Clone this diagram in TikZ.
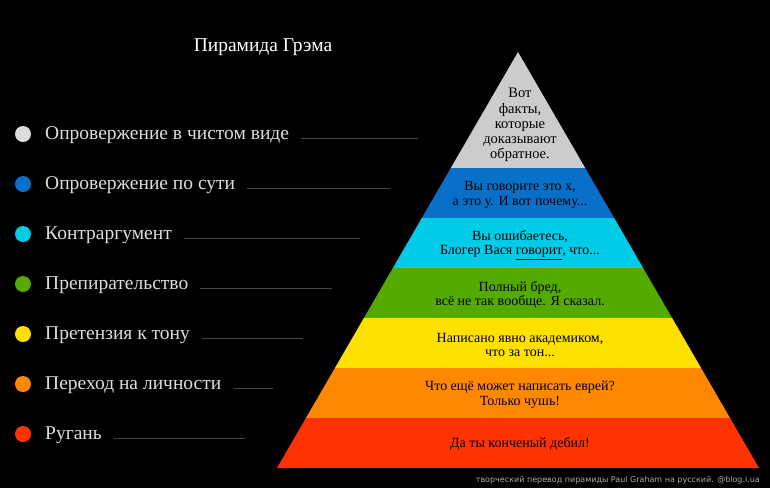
\documentclass[tikz,border=0pt]{standalone}
\usepackage{fontspec}
\setmainfont{Liberation Serif}
\newfontfamily\capfont{DejaVu Sans}
\definecolor{cgray}{HTML}{CCCCCC}
\definecolor{cgrayl}{HTML}{DDDDDD}
\definecolor{cblue}{HTML}{0870C8}
\definecolor{ccyan}{HTML}{00CCE8}
\definecolor{cgreen}{HTML}{55AA00}
\definecolor{cyellow}{HTML}{FFE100}
\definecolor{corange}{HTML}{FF8800}
\definecolor{cred}{HTML}{FF3300}
\definecolor{legc}{HTML}{DDDDDD}
\definecolor{lineg}{HTML}{484848}
\definecolor{capc}{HTML}{AAAAAA}
\begin{document}
\begin{tikzpicture}[x=1pt,y=-1pt,
  legtext/.style={anchor=base west, inner sep=0pt, text=legc, font=\fontsize{19.5}{22}\selectfont},
  legdot/.style={circle, minimum size=16pt, inner sep=0pt},
  leader/.style={draw=lineg, line width=0.7pt},
  ptext/.style={align=center, font=\fontsize{14}{14.8}\selectfont, text=black, inner sep=0pt}]
\fill[black] (0,0) rectangle (770,488);
\useasboundingbox (0,0) rectangle (770,488);
% title
\node[text=white, font=\fontsize{19.5}{22}\selectfont] (title) at (263,47) {Пирамида Грэма};
% pyramid
\coordinate (apex) at (518,52);
\coordinate (bl) at (277,468);
\coordinate (br) at (759,468);
\begin{scope}
\clip (apex) -- (bl) -- (br) -- cycle;
\fill[cgray]   (200,40)  rectangle (800,168);
\fill[cblue]   (200,168) rectangle (800,218);
\fill[ccyan]   (200,218) rectangle (800,268);
\fill[cgreen]  (200,268) rectangle (800,318);
\fill[cyellow] (200,318) rectangle (800,368);
\fill[corange] (200,368) rectangle (800,418);
\fill[cred]    (200,418) rectangle (800,470);
\end{scope}
\node[ptext, font=\fontsize{14.5}{15.2}\selectfont] (t1) at (520,125) {Вот\\факты,\\которые\\доказывают\\обратное.};
\node[ptext] (t2) at (520,195) {Вы говорите это х,\\а это у. И вот почему...};
\node[ptext] (t3) at (520,245) {Вы ошибаетесь,\\Блогер Вася \underline{говорит}, что...};
\node[ptext] (t4) at (520,295) {Полный бред,\\всё не так вообще. Я сказал.};
\node[ptext] (t5) at (520,345) {Написано явно академиком,\\что за тон...};
\node[ptext] (t6) at (520,395) {Что ещё может написать еврей?\\Только чушь!};
\node[ptext] (t7) at (520,444) {Да ты конченый дебил!};
% legend
\foreach \i/\c/\t/\e in {0/cgrayl/Опровержение в чистом виде/418,
                         1/cblue/Опровержение по сути/390,
                         2/ccyan/Контраргумент/360,
                         3/cgreen/Препирательство/332,
                         4/cyellow/Претензия к тону/303,
                         5/corange/Переход на личности/273,
                         6/cred/Ругань/245}{
  \pgfmathsetmacro\yy{134+50*\i}
  \node[legdot, fill=\c] (dot\i) at (23,\yy) {};
  \node[legtext] (lab\i) at (45,\yy+5.5) {\t};
  \coordinate (le\i) at (\e,\yy+4);
  \draw[leader] (lab\i.base east) ++(12,-1.5) -- (le\i);
}
% caption
\node[anchor=base east, inner sep=0pt, font=\capfont\fontsize{8}{9}\selectfont, text=capc] (cap) at (760,482) {творческий перевод пирамиды Paul Graham на русский. @blog.i.ua};
\end{tikzpicture}
\end{document}
